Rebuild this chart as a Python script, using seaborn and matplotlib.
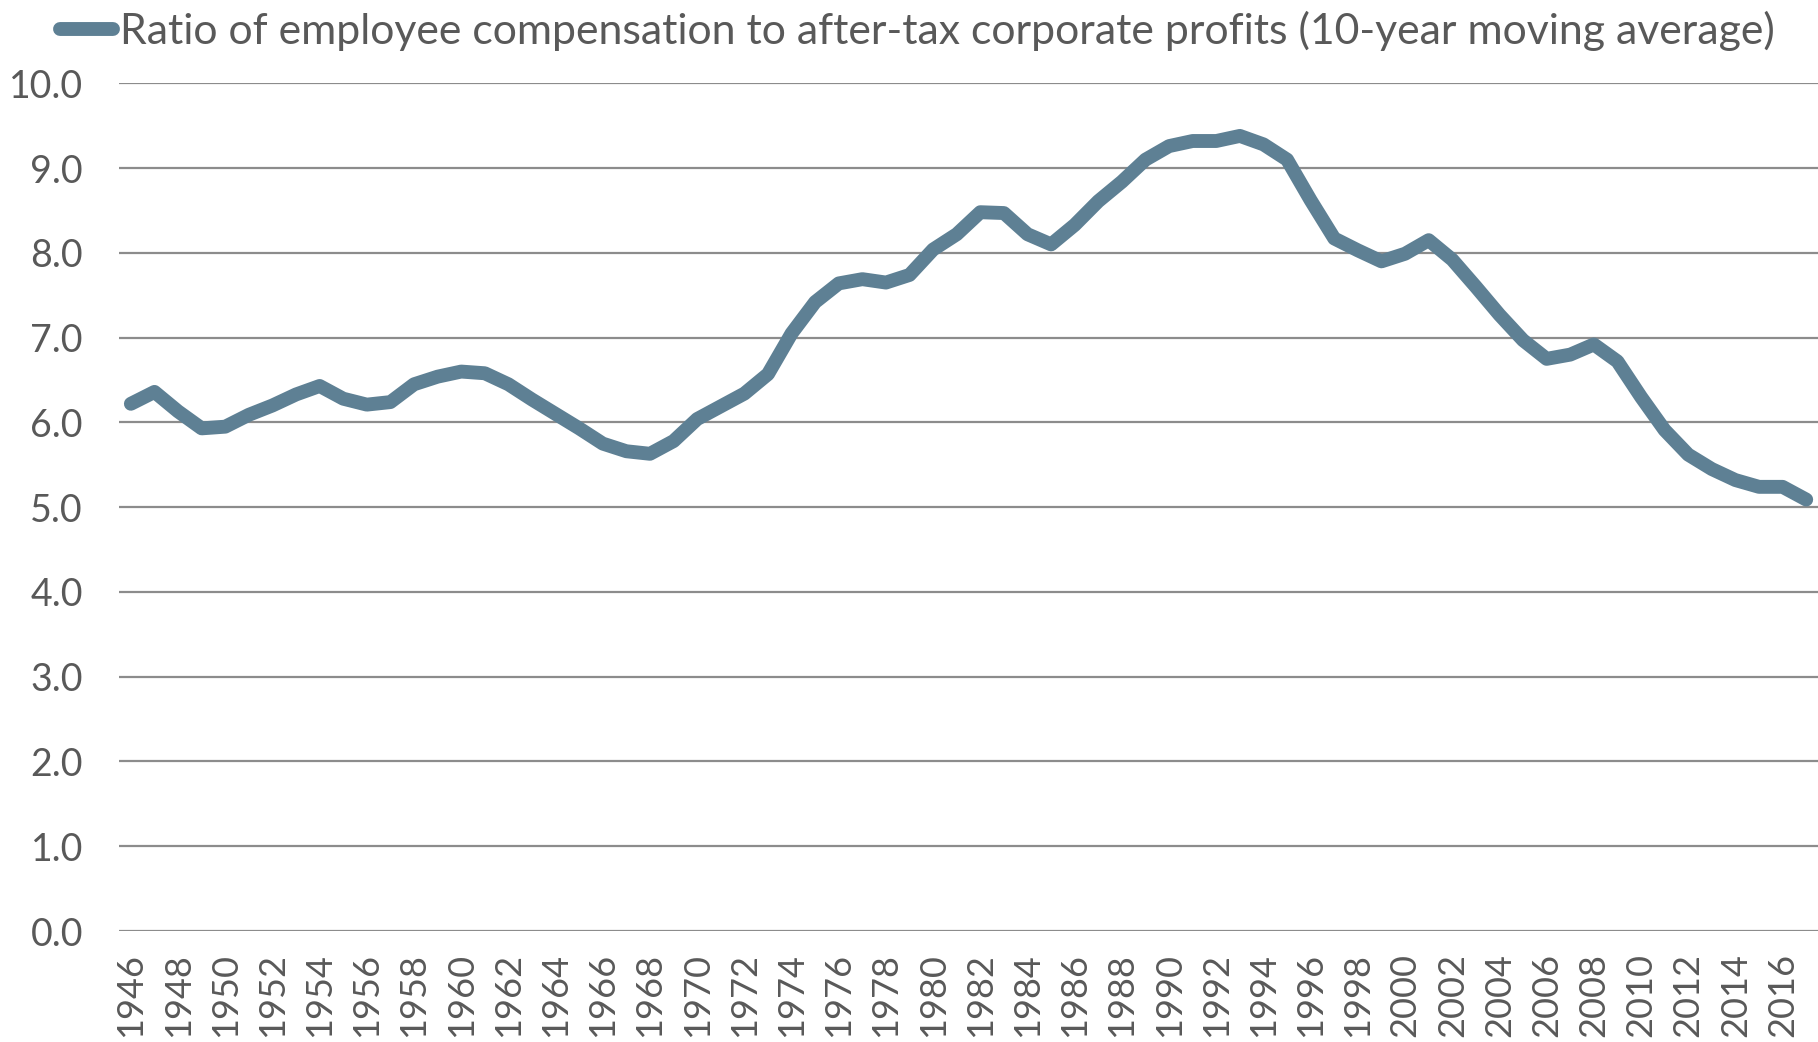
import numpy as np
import pandas as pd
import seaborn as sns
import matplotlib.pyplot as plt

# years and ratio values
years = list(range(1946, 2018))
ratio = [6.22, 6.36, 6.13, 5.93, 5.95, 6.09, 6.20, 6.33, 6.43, 6.28,
         6.21, 6.24, 6.45, 6.54, 6.60, 6.58, 6.45, 6.27, 6.10, 5.93,
         5.75, 5.66, 5.63, 5.78, 6.04, 6.19, 6.34, 6.57, 7.05, 7.42,
         7.64, 7.69, 7.65, 7.74, 8.04, 8.22, 8.48, 8.47, 8.22, 8.10,
         8.33, 8.61, 8.84, 9.10, 9.26, 9.32, 9.32, 9.38, 9.28, 9.10,
         8.62, 8.17, 8.03, 7.90, 7.99, 8.15, 7.92, 7.60, 7.27, 6.97,
         6.75, 6.80, 6.92, 6.72, 6.30, 5.91, 5.62, 5.45, 5.32, 5.24,
         5.24, 5.09]
series_name = "Ratio of employee compensation to after-tax corporate profits (10-year moving average)"

df = pd.DataFrame({"year": years, "ratio": ratio})

sns.set_style("white")
plt.rcParams['font.family'] = ['Lato', 'DejaVu Sans']

text_col = "#595959"
line_col = "#5E8094"

fig = plt.figure(figsize=(18.18, 10.42), dpi=100)
ax = fig.add_axes([0.0655, 0.1065, 0.9345, 0.8135])

# gridlines
for v in np.arange(0, 11, 1):
    ax.axhline(v, color="#8c8c8c", lw=1.6, zorder=1)

sns.lineplot(data=df, x="year", y="ratio", ax=ax, color=line_col, lw=10,
             solid_capstyle="round", solid_joinstyle="round", label=series_name, zorder=3)

ax.set_xlim(1945.5, 2017.5)
ax.set_ylim(0, 10)
ax.set_yticks(np.arange(0, 11, 1))
ax.set_yticklabels([f"{v:.1f}" for v in np.arange(0, 11, 1)])
ax.set_xticks(years[::2])
ax.set_xticklabels([str(y) for y in years[::2]], rotation=90)
ax.tick_params(axis="y", length=0, pad=26, labelsize=27, labelcolor=text_col)
ax.tick_params(axis="x", length=0, pad=16, labelsize=26, labelcolor=text_col)
ax.set_xlabel("")
ax.set_ylabel("")
for s in ax.spines.values():
    s.set_visible(False)

ax.legend(loc="center left", bbox_to_anchor=(0.033, 0.970), bbox_transform=fig.transFigure,
          frameon=False, fontsize=30.8, labelcolor=text_col, handlelength=1.25,
          handletextpad=0.15, borderpad=0, borderaxespad=0)

fig.savefig("out.png", dpi=100)
